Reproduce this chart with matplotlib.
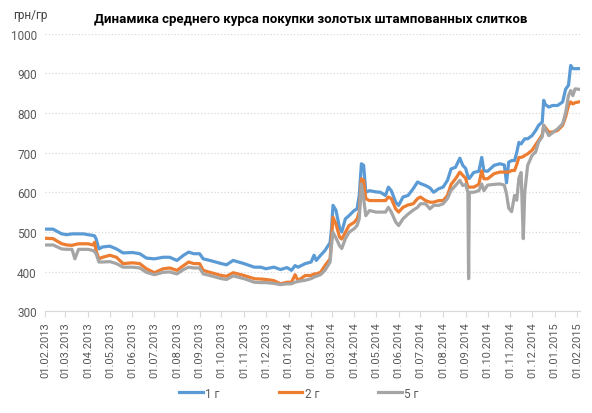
import matplotlib
matplotlib.use('Agg')
import matplotlib.pyplot as plt
import matplotlib.dates as mdates
from datetime import datetime as dt

dates = ['2013-02-01', '2013-02-12', '2013-02-24', '2013-03-03', '2013-03-10',
         '2013-03-14', '2013-03-19', '2013-03-26', '2013-04-01', '2013-04-08',
         '2013-04-10', '2013-04-12', '2013-04-16', '2013-04-21', '2013-05-01',
         '2013-05-10', '2013-05-19', '2013-06-01', '2013-06-11', '2013-06-20',
         '2013-07-01', '2013-07-13', '2013-07-22', '2013-08-01', '2013-08-10',
         '2013-08-17', '2013-08-24', '2013-09-01', '2013-09-06', '2013-09-15',
         '2013-10-01', '2013-10-08', '2013-10-17', '2013-11-01', '2013-11-15',
         '2013-11-24', '2013-12-01', '2013-12-12', '2013-12-21', '2013-12-30',
         '2014-01-05', '2014-01-10', '2014-01-14', '2014-01-24', '2014-02-01',
         '2014-02-05', '2014-02-08', '2014-02-14', '2014-02-20', '2014-02-27',
         '2014-03-01', '2014-03-03', '2014-03-07', '2014-03-12', '2014-03-15',
         '2014-03-20', '2014-03-25', '2014-04-01', '2014-04-05', '2014-04-08',
         '2014-04-11', '2014-04-14', '2014-04-17', '2014-04-22', '2014-05-01',
         '2014-05-07', '2014-05-14', '2014-05-18', '2014-05-22', '2014-05-28',
         '2014-06-01', '2014-06-07', '2014-06-14', '2014-06-21', '2014-06-27',
         '2014-07-01', '2014-07-08', '2014-07-14', '2014-07-19', '2014-07-26',
         '2014-08-01', '2014-08-07', '2014-08-12', '2014-08-18', '2014-08-24',
         '2014-08-28', '2014-09-01', '2014-09-04', '2014-09-05', '2014-09-06',
         '2014-09-12', '2014-09-19', '2014-09-23', '2014-09-26', '2014-10-01',
         '2014-10-10', '2014-10-18', '2014-10-24', '2014-10-27', '2014-10-30',
         '2014-11-03', '2014-11-07', '2014-11-10', '2014-11-13', '2014-11-16',
         '2014-11-19', '2014-11-21', '2014-11-25', '2014-12-01', '2014-12-06',
         '2014-12-10', '2014-12-15', '2014-12-17', '2014-12-19', '2014-12-24',
         '2014-12-29', '2015-01-05', '2015-01-12', '2015-01-16', '2015-01-20',
         '2015-01-23', '2015-01-26', '2015-01-29', '2015-02-03']

g1 = [507, 507, 495, 493, 495, 495, 495, 495, 493, 491,
      490, 483, 457, 462, 464, 457, 447, 448, 445, 434,
      432, 436, 436, 428, 441, 449, 445, 445, 432, 428,
      420, 417, 428, 420, 411, 411, 407, 411, 405, 410,
      403, 415, 411, 420, 424, 441, 428, 441, 453, 473,
      508, 567, 555, 510, 500, 533, 541, 554, 558, 592,
      672, 668, 600, 604, 601, 600, 592, 613, 604, 575,
      567, 588, 592, 609, 626, 622, 617, 611, 600, 609,
      613, 630, 659, 663, 686, 668, 660, 640, 635, 635,
      650, 653, 688, 654, 653, 668, 672, 669, 624, 676,
      680, 680, 700, 726, 722, 730, 735, 735, 743, 756,
      769, 777, 832, 822, 815, 819, 819, 828, 860, 870,
      920, 912, 912, 912]

g2 = [484, 483, 470, 467, 466, 468, 470, 470, 470, 467,
      474, 453, 432, 436, 441, 436, 420, 422, 420, 407,
      397, 407, 409, 403, 415, 424, 420, 420, 403, 398,
      390, 388, 397, 390, 382, 381, 380, 377, 369, 373,
      373, 392, 377, 390, 390, 394, 394, 398, 415, 432,
      483, 537, 520, 487, 482, 499, 516, 524, 533, 550,
      634, 630, 584, 579, 579, 579, 579, 588, 584, 558,
      550, 562, 568, 571, 584, 588, 579, 575, 575, 579,
      579, 592, 620, 634, 651, 643, 635, 613, 613, 613,
      613, 620, 654, 634, 634, 647, 651, 651, 651, 651,
      655, 655, 670, 688, 688, 690, 693, 697, 706, 720,
      731, 745, 769, 764, 752, 752, 756, 769, 790, 819,
      828, 823, 826, 828]

g5 = [467, 467, 457, 456, 456, 432, 456, 456, 456, 453,
      450, 445, 424, 424, 425, 420, 411, 411, 409, 398,
      392, 398, 399, 394, 405, 411, 409, 409, 394, 390,
      382, 380, 389, 382, 373, 372, 372, 370, 367, 369,
      369, 373, 375, 378, 382, 386, 388, 392, 403, 424,
      467, 499, 485, 465, 458, 483, 499, 508, 516, 533,
      621, 584, 541, 554, 550, 550, 550, 562, 550, 525,
      516, 533, 545, 555, 562, 571, 571, 558, 567, 567,
      571, 584, 605, 617, 630, 617, 620, 600, 382, 600,
      600, 604, 621, 604, 618, 620, 621, 618, 596, 560,
      551, 592, 580, 636, 650, 483, 600, 668, 693, 702,
      727, 740, 769, 760, 743, 750, 760, 773, 800, 844,
      857, 844, 861, 860]

series = [('1 г', g1, '#5B9BD5'), ('2 г', g2, '#ED7D31'), ('5 г', g5, '#A5A5A5')]

plt.rcParams['font.family'] = ['Roboto', 'DejaVu Sans']

x = [dt.fromisoformat(d) for d in dates]

fig = plt.figure(figsize=(5.92, 4.14), dpi=100)
ax = fig.add_axes([0.076, 0.246, 0.904, 0.67])

for name, vals, col in series:
    ax.plot(x, vals, color=col, linewidth=2.3, label=name, solid_joinstyle='round')

ax.set_ylim(300, 1000)
ax.set_yticks(range(300, 1001, 100))
ax.set_xlim(dt(2013, 2, 1), dt(2015, 2, 5))
ax.xaxis.set_major_locator(mdates.MonthLocator(bymonthday=1))
ax.xaxis.set_major_formatter(mdates.DateFormatter('%d.%m.%Y'))
for lab in ax.get_xticklabels():
    lab.set_rotation(90)

ax.grid(axis='y', color='#d9d9d9', linestyle=':', linewidth=0.9)
ax.set_axisbelow(True)
for s in ['top', 'right', 'left']:
    ax.spines[s].set_visible(False)
ax.spines['bottom'].set_color('#d9d9d9')
ax.tick_params(axis='y', length=0, labelsize=8.5, labelcolor='#595959', pad=6)
ax.tick_params(axis='x', length=4, color='#d9d9d9', labelsize=8, labelcolor='#595959')

fig.text(0.524, 0.952, 'Динамика среднего курса покупки золотых штампованных слитков',
         ha='center', va='center', fontsize=9.5, fontweight='bold', color='black')
fig.text(0.022, 0.962, 'грн/гр', ha='left', va='center', fontsize=8.5, color='#404040')

fig.legend(loc='center', bbox_to_anchor=(0.505, 0.048), ncol=3, frameon=False,
           fontsize=8.5, handlelength=2.0, columnspacing=5.0, handletextpad=0.2,
           labelcolor='#595959')

fig.savefig('out.png', dpi=100)
